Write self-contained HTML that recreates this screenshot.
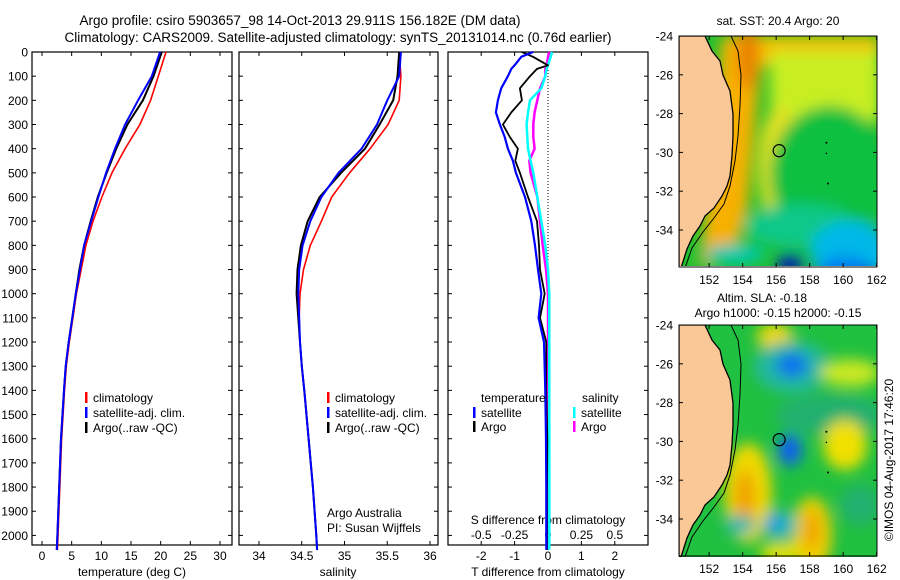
<!DOCTYPE html>
<html><head><meta charset="utf-8"><style>
html,body{margin:0;padding:0;background:#fff;}
svg{display:block;font-family:"Liberation Sans",sans-serif;}
</style></head><body>
<svg id="chart" width="900" height="580" viewBox="0 0 900 580" xmlns="http://www.w3.org/2000/svg">
<defs>
<filter id="blur" x="-50%" y="-50%" width="200%" height="200%"><feGaussianBlur stdDeviation="7"/></filter>
<clipPath id="clipTop"><rect x="679" y="36" width="198" height="230"/></clipPath>
<clipPath id="clipBot"><rect x="679" y="325" width="198" height="232"/></clipPath>
</defs>
<text x="300" y="25" font-size="13.5" text-anchor="middle">Argo profile: csiro 5903657_98 14-Oct-2013 29.911S 156.182E (DM data)</text>
<text x="338" y="42" font-size="13.5" text-anchor="middle">Climatology: CARS2009. Satellite-adjusted climatology: synTS_20131014.nc (0.76d earlier)</text>
<g id="panels"></g>
<g id="maps"></g>
</svg>
<script>
// ---- data ----
const depthT = [0,100,200,300,400,500,600,700,800,900,1000,1100,1200,1300,1400,1600,1800,2000,2060];
const tempClim = [20.9,19.6,18.3,16.5,14.0,11.8,10.1,8.6,7.4,6.6,5.8,5.2,4.6,4.1,3.8,3.3,3.0,2.7,2.6];
const tempSat  = [19.9,18.5,16.2,14.0,12.3,10.8,9.5,8.3,7.1,6.4,5.7,5.1,4.5,4.0,3.7,3.2,2.9,2.6,2.5];
const tempArgo = [20.2,18.8,17.0,14.4,12.5,10.9,9.4,8.2,7.1,6.3,5.7,5.1,4.5,4.0,3.7,3.2,2.9,2.6,2.5];
const salClim = [35.64,35.66,35.64,35.51,35.30,35.06,34.85,34.73,34.60,34.52,34.48,34.47,34.48,34.50,34.53,34.58,34.63,34.67,34.68];
const salSat  = [35.66,35.64,35.50,35.38,35.20,34.93,34.73,34.60,34.51,34.47,34.46,34.47,34.48,34.50,34.53,34.58,34.63,34.67,34.68];
const salArgo = [35.64,35.62,35.57,35.41,35.24,34.96,34.71,34.57,34.49,34.45,34.44,34.46,34.48,34.50,34.53,34.58,34.63,34.67,34.68];
const depthD = [0,20,55,70,100,150,200,250,300,350,400,450,500,600,700,800,900,1000,1100,1200,1400,1600,1800,2000,2060];
const dTsat  = [-0.45,-0.8,-1.0,-1.1,-1.2,-1.4,-1.5,-1.56,-1.44,-1.3,-1.2,-1.05,-0.96,-0.69,-0.5,-0.39,-0.3,-0.2,-0.28,-0.12,-0.08,-0.06,-0.05,-0.05,-0.05];
const dTargo = [-0.78,-0.45,0.0,-0.33,-0.54,-0.84,-0.78,-1.1,-1.35,-1.15,-0.9,-0.98,-0.84,-0.6,-0.33,-0.27,-0.24,-0.1,-0.24,-0.05,-0.05,-0.02,-0.03,-0.03,-0.03];
const dSsat  = [0.03,0.02,0.0,-0.01,-0.02,-0.05,-0.135,-0.15,-0.16,-0.155,-0.15,-0.13,-0.11,-0.08,-0.05,-0.02,0.0,0.01,0.01,0.01,0.01,0.01,0.01,0.01,0.01];
const dSargo = [0.01,0.0,-0.01,-0.02,-0.02,-0.06,-0.08,-0.10,-0.11,-0.11,-0.10,-0.14,-0.13,-0.08,-0.06,-0.04,-0.015,0.0,0.0,0.0,0.0,0.0,0.0,0.0,0.0];
const depthTicks = [0,100,200,300,400,500,600,700,800,900,1000,1100,1200,1300,1400,1500,1600,1700,1800,1900,2000];
const tempTicks = [0,5,10,15,20,25,30];
const salTicks = [34,34.5,35,35.5,36];
const salTickLabels = ["34","34.5","35","35.5","36"];
const dTTicks = [-2,-1,0,1,2];
const dSTicks = [-0.5,-0.25,0,0.25,0.5];
const dSTickLabels = ["-0.5","-0.25","0","0.25","0.5"];

// ---- scales ----
const Y0=52, Y1=545;
const yD = d => 52 + d*0.2417;
const xT = v => 42 + v*5.933;
const xS = v => 259 + (v-34)*85.5;
const xDT = v => 548 + v*33.4;
const xDS = v => 548 + v*4*33.4;

const NS="http://www.w3.org/2000/svg";
const P=document.getElementById('panels');
function mk(tag, attrs, parent, txt){const e=document.createElementNS(NS,tag);for(const k in attrs)e.setAttribute(k,attrs[k]);if(txt!==undefined)e.textContent=txt;(parent||P).appendChild(e);return e;}
function poly(xs, ys, xf, color, w, name){
  const pts = xs.map((v,i)=>xf(v).toFixed(1)+','+yD(ys[i]).toFixed(1)).join(' ');
  const e = mk('polyline',{points:pts,fill:'none',stroke:color,'stroke-width':w,'stroke-linejoin':'round'});
  
  
}
const boxes=[[32,232,'temperature-panel'],[239,438,'salinity-panel'],[448,648,'difference-panel']];
boxes.forEach(b=>{
  const r=mk('rect',{x:b[0],y:Y0,width:b[1]-b[0],height:Y1-Y0,fill:'none',stroke:'#000','stroke-width':1.2});
  
  
  depthTicks.forEach(d=>{
    mk('line',{x1:b[0],x2:b[0]+4,y1:yD(d),y2:yD(d),stroke:'#000'});
    mk('line',{x1:b[1],x2:b[1]-4,y1:yD(d),y2:yD(d),stroke:'#000'});
  });
});
depthTicks.forEach(d=>{
  const t=mk('text',{x:28,y:yD(d)+4.5,'font-size':12,'text-anchor':'end'},P,String(d));
  
  
});
function xticks(vals, labels, xf, ly, name){
  vals.forEach((v,i)=>{
    const x=xf(v);
    mk('line',{x1:x,x2:x,y1:Y0,y2:Y0+4,stroke:'#000'});
    mk('line',{x1:x,x2:x,y1:Y1,y2:Y1-4,stroke:'#000'});
    const t=mk('text',{x:x,y:ly,'font-size':12,'text-anchor':'middle'},P,labels[i]);
    
    
  });
}
xticks(tempTicks,tempTicks.map(String),xT,560,'temperature-tick-label');
xticks(salTicks,salTickLabels,xS,560,'salinity-tick-label');
xticks(dTTicks,dTTicks.map(String),xDT,560,'t-difference-tick-label');
dSTicks.forEach((v,i)=>{
  const t=mk('text',{x:xDS(v),y:539,'font-size':12,'text-anchor':'middle'},P,dSTickLabels[i]);
  
  
});
mk('text',{x:132,y:576,'font-size':12,'text-anchor':'middle',},P,'temperature (deg C)');
mk('text',{x:338,y:576,'font-size':12,'text-anchor':'middle',},P,'salinity');
mk('text',{x:548,y:576,'font-size':12,'text-anchor':'middle',},P,'T difference from climatology');
mk('text',{x:548,y:524,'font-size':12,'text-anchor':'middle',},P,'S difference from climatology');
mk('line',{x1:xDT(0),x2:xDT(0),y1:Y0,y2:Y1,stroke:'#000','stroke-dasharray':'1,2',});

// profiles
poly(tempClim,depthT,xT,'#ff0000',1.6,'temperature-climatology-line');
poly(tempArgo,depthT,xT,'#000000',2,'temperature-argo-line');
poly(tempSat,depthT,xT,'#0000ff',2,'temperature-satellite-line');
poly(salClim,depthT,xS,'#ff0000',1.6,'salinity-climatology-line');
poly(salArgo,depthT,xS,'#000000',2,'salinity-argo-line');
poly(salSat,depthT,xS,'#0000ff',2,'salinity-satellite-line');
poly(dSargo,depthD,xDS,'#ff00ff',2.5,'s-diff-argo-line');
poly(dSsat,depthD,xDS,'#00ffff',2.5,'s-diff-satellite-line');
poly(dTargo,depthD,xDT,'#000000',1.8,'t-diff-argo-line');
poly(dTsat,depthD,xDT,'#0000ff',2.2,'t-diff-satellite-line');

// legends
function legend(x,y,color,label,name){
  const g=mk('g',{});
  
  
  mk('rect',{x:x,y:y-10,width:2.5,height:11,fill:color},g);
  mk('text',{x:x+8,y:y,'font-size':12},g,label);
}
legend(85,402,'#ff0000','climatology','legend-climatology');
legend(85,417,'#0000ff','satellite-adj. clim.','legend-satellite');
legend(85,432,'#000000','Argo(..raw -QC)','legend-argo');
legend(327,402,'#ff0000','climatology','legend-climatology-sal');
legend(327,417,'#0000ff','satellite-adj. clim.','legend-satellite-sal');
legend(327,432,'#000000','Argo(..raw -QC)','legend-argo-sal');
mk('text',{x:481,y:402,'font-size':12,},P,'temperature');
mk('text',{x:582,y:402,'font-size':12,},P,'salinity');
legend(473,417,'#0000ff','satellite','legend-t-satellite');
legend(473,431,'#000000','Argo','legend-t-argo');
legend(573,417,'#00ffff','satellite','legend-s-satellite');
legend(573,431,'#ff00ff','Argo','legend-s-argo');
mk('text',{x:327,y:517,'font-size':12,},P,'Argo Australia');
mk('text',{x:327,y:532,'font-size':12,},P,'PI: Susan Wijffels');

// ---- maps ----
const M=document.getElementById('maps');
const lonTicks=[152,154,156,158,160,162];
const latTicks=[-24,-26,-28,-30,-32,-34];
const xLon = lon => 679 + (lon-150.2)*16.75;
function drawMap(top, clip, blobs, base, name){
  const yLat = lat => top + (-24-lat)*19.4;
  const g=mk('g',{'clip-path':'url(#'+clip+')'},M);
  
  
  mk('rect',{x:679,y:top,width:198,height:232,fill:base},g);
  const bg=mk('g',{filter:'url(#blur)'},g);
  blobs.forEach(b=>{
    if(b[0]==='r') mk('rect',{x:b[1],y:top+b[2],width:b[3],height:b[4],fill:b[5]},bg);
    else if(b[0]==='p') mk('polygon',{points:b[1].map(p=>p[0]+','+(top+p[1])).join(' '),fill:b[2]},bg);
    else mk('ellipse',{cx:b[1],cy:top+b[2],rx:b[3],ry:b[4],fill:b[5]},bg);
  });
  const coast=[[705,0],[712,15],[720,25],[723,39],[730,55],[733,78],[733,100],[732,120],[730,140],[727,150],[722,160],[714,172],[705,180],[700,190],[693,200],[687,213],[681,232]];
  const shelf=[[731,0],[738,15],[741,39],[740,70],[738,100],[735,125],[730,150],[724,168],[714,182],[703,196],[692,212],[685,232]];
  mk('polygon',{points:'679,'+top+' '+coast.map(p=>p[0]+','+(top+p[1])).join(' ')+' 679,'+(top+232),fill:'#fac896',stroke:'#000','stroke-width':1.3},g);
  mk('polyline',{points:shelf.map(p=>p[0]+','+(top+p[1])).join(' '),fill:'none',stroke:'#000','stroke-width':1},g);
  mk('circle',{cx:xLon(156.18),cy:yLat(-29.91),r:6,fill:'none',stroke:'#000','stroke-width':1.2},g);
  mk('circle',{cx:xLon(159),cy:yLat(-29.5),r:1,fill:'#000'},g);
  mk('circle',{cx:xLon(159),cy:yLat(-30.05),r:0.8,fill:'#000'},g);
  mk('circle',{cx:xLon(159.1),cy:yLat(-31.6),r:1,fill:'#000'},g);
  mk('rect',{x:679,y:top,width:198,height:231,fill:'none',stroke:'#000'},M);
  lonTicks.forEach(l=>{
    const x=xLon(l);
    mk('line',{x1:x,x2:x,y1:top,y2:top+4,stroke:'#000'},M);
    mk('line',{x1:x,x2:x,y1:top+231,y2:top+227,stroke:'#000'},M);
    const t=mk('text',{x:x,y:top+248,'font-size':12,'text-anchor':'middle'},M,String(l));
    
    
  });
  latTicks.forEach(l=>{
    const y=yLat(l);
    mk('line',{x1:679,x2:683,y1:y,y2:y,stroke:'#000'},M);
    mk('line',{x1:877,x2:873,y1:y,y2:y,stroke:'#000'},M);
    const t=mk('text',{x:673,y:y+4.5,'font-size':12,'text-anchor':'end'},M,String(l));
    
    
  });
}
drawMap(36,'clipTop',[
  ['r',730,0,150,30,'#f8c000'],
  ['r',770,15,110,70,'#c8ee20'],
  ['e',780,130,22,60,'#e0e020'],
  ['p',[[722,0],[765,0],[758,60],[752,120],[748,170],[735,215],[700,232]],'#f8b000'],
  ['e',748,20,10,35,'#e88000'],
  ['e',830,140,60,70,'#10c040'],
  ['e',800,190,55,22,'#10c888'],
  ['e',850,215,40,30,'#00b8e8'],
  ['e',845,240,30,20,'#0080f0'],
  ['e',868,250,16,16,'#0010a0'],
  ['e',735,218,30,10,'#00c8b0'],
  ['e',790,228,14,10,'#0020b0']
],'#20c030','sst-map');
drawMap(325,'clipBot',[
  ['e',775,12,18,14,'#f0d800'],
  ['e',792,42,38,26,'#20b8a0'],
  ['e',792,40,16,12,'#1070f0'],
  ['e',850,48,30,14,'#c8e820'],
  ['e',830,90,55,20,'#20b070'],
  ['e',790,125,12,16,'#1060f0'],
  ['e',845,120,22,25,'#f0e000'],
  ['e',748,168,24,50,'#f0d800'],
  ['e',745,175,10,30,'#f0a000'],
  ['e',812,210,20,38,'#f0d000'],
  ['e',812,205,8,20,'#f0a000'],
  ['e',780,200,18,14,'#20b8b0'],
  ['e',775,198,8,7,'#2090f0'],
  ['e',740,200,15,10,'#20b8b0'],
  ['e',860,180,20,20,'#20b070'],
  ['e',780,228,20,10,'#f0e000']
],'#20c040','sla-map');
mk('text',{x:778,y:25,'font-size':12,'text-anchor':'middle',},M,'sat. SST: 20.4  Argo: 20');
mk('text',{x:762,y:302,'font-size':12,'text-anchor':'middle',},M,'Altim. SLA: -0.18');
mk('text',{x:778,y:317,'font-size':12,'text-anchor':'middle',},M,'Argo h1000: -0.15 h2000: -0.15');
mk('text',{x:893,y:460,'font-size':12,'text-anchor':'middle',transform:'rotate(-90 893 460)',},M,'©IMOS 04-Aug-2017 17:46:20');
</script>
</body></html>
